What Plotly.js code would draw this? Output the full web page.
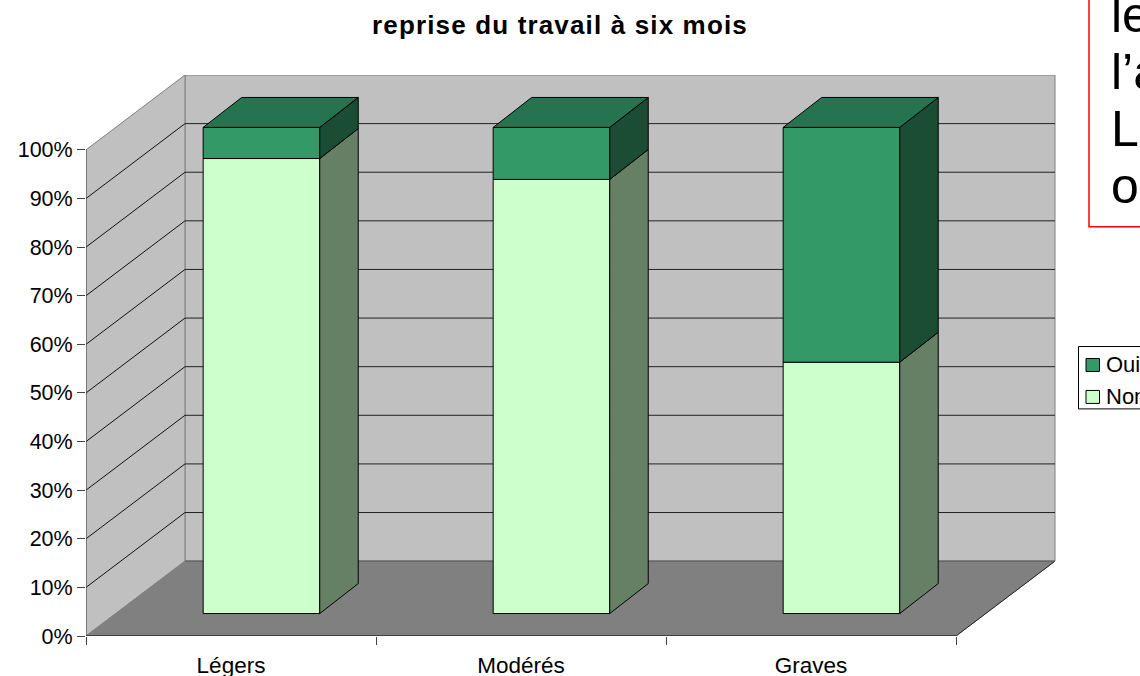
<!DOCTYPE html>
<html>
<head>
<meta charset="utf-8">
<script src="https://cdn.plot.ly/plotly-3.0.1.min.js"></script>
<style>html,body{margin:0;padding:0;background:#fff;overflow:hidden}#chart{width:1140px;height:676px}
.gtitle{letter-spacing:1.15px}</style>
</head>
<body>
<div id="chart"></div>
<script>
// --- data ---
const categories = ['Légers', 'Modérés', 'Graves'];
const nonValues = [93.6, 89.3, 51.7];
const ouiValues = [6.4, 10.7, 48.3];
const yTicks = [0, 10, 20, 30, 40, 50, 60, 70, 80, 90, 100];
const yTickLabels = yTicks.map(v => v + '%');
const boxLines = ['le', 'l’a', 'La', 'or'];
const seriesNames = ['Oui', 'Non'];

// --- drawing constants (pixels of the page, converted to axis units) ---
const W = 1140, H = 676;
const L = 86, R = 1056, T = 74.5, B = 636.5;
const catPx = 290, pctPx = 4.87;
const xMax = (R - L) / catPx, yMax = (B - T) / pctPx;
const wallDX = 99 / catPx, wallDY = 75 / pctPx;       // depth of the whole chart box
const barFront = 0.605, barW = 0.402;                 // centre in category, width
const barDX = 38.5 / catPx, barDY = 30 / pctPx;       // depth of a bar
const barBase = 22.5 / pctPx;                         // lift of the bars' front plane

const cOui = '#339966', cOuiSide = '#1A4D33', cOuiTop = '#267350';
const cNon = '#CCFFCC', cNonSide = '#668066';
const nCat = categories.length;
const pos = categories.map((c, i) => i + barFront);

function poly(pts) { return 'M' + pts.map(p => p[0] + ',' + p[1]).join('L') + 'Z'; }
function seg(a, b, color, w, layer) {
  return { type: 'line', xref: 'x', yref: 'y', x0: a[0], y0: a[1], x1: b[0], y1: b[1],
           line: { color: color, width: w }, layer: layer || 'below' };
}

// --- walls, floor and grid ---
const shapes = [];
const wallBack = poly([[wallDX, wallDY], [nCat + wallDX, wallDY], [nCat + wallDX, 100 + wallDY], [wallDX, 100 + wallDY]]);
const wallLeft = poly([[0, 0], [wallDX, wallDY], [wallDX, 100 + wallDY], [0, 100]]);
const floorP = poly([[0, 0], [nCat, 0], [nCat + wallDX, wallDY], [wallDX, wallDY]]);
shapes.push({ type: 'path', xref: 'x', yref: 'y', path: wallBack, fillcolor: '#C0C0C0', line: { color: '#808080', width: 1 }, layer: 'below' });
shapes.push({ type: 'path', xref: 'x', yref: 'y', path: wallLeft, fillcolor: '#C0C0C0', line: { color: '#808080', width: 1 }, layer: 'below' });
shapes.push({ type: 'path', xref: 'x', yref: 'y', path: floorP, fillcolor: '#808080', line: { color: '#808080', width: 1 }, layer: 'below' });
yTicks.forEach(v => {
  if (v === 0 || v === 100) return;
  shapes.push(seg([0, v], [wallDX, v + wallDY], '#111111', 1));
  shapes.push(seg([wallDX, v + wallDY], [nCat + wallDX, v + wallDY], '#222222', 1));
});
shapes.push(seg([nCat, 0], [nCat + wallDX, wallDY], '#222222', 1));
shapes.push(seg([wallDX, wallDY], [nCat + wallDX, wallDY], '#555555', 1));
shapes.push(seg([0, 0], [0, 100], '#555555', 1));

// --- traces ---
const traces = [];
traces.push({ type: 'bar', name: seriesNames[1], x: pos, y: nonValues, base: nonValues.map(() => barBase), width: barW,
  marker: { color: cNon, line: { color: '#000', width: 1 } }, showlegend: false, hoverinfo: 'skip' });
traces.push({ type: 'bar', name: seriesNames[0], x: pos, y: ouiValues, base: nonValues.map(v => barBase + v), width: barW,
  marker: { color: cOui, line: { color: '#000', width: 1 } }, showlegend: false, hoverinfo: 'skip' });

function addFace(xs, ys, color) {
  traces.push({ type: 'scatter', mode: 'lines', x: xs, y: ys, fill: 'toself', fillcolor: color,
    line: { color: '#000', width: 1 }, showlegend: false, hoverinfo: 'skip' });
}
pos.forEach((c, i) => {
  const xr = c + barW / 2, xl = c - barW / 2;
  const y0 = barBase, y1 = barBase + nonValues[i], y2 = y1 + ouiValues[i];
  addFace([xr, xr + barDX, xr + barDX, xr, xr], [y0, y0 + barDY, y1 + barDY, y1, y0], cNonSide);
  addFace([xr, xr + barDX, xr + barDX, xr, xr], [y1, y1 + barDY, y2 + barDY, y2, y1], cOuiSide);
  addFace([xl, xr, xr + barDX, xl + barDX, xl], [y2, y2, y2 + barDY, y2 + barDY, y2], cOuiTop);
});

// category baseline and tick marks live on a second x axis
traces.push({ type: 'scatter', mode: 'lines', xaxis: 'x2', yaxis: 'y', x: [0, nCat], y: [0, 0],
  line: { color: '#000', width: 1 }, showlegend: false, hoverinfo: 'skip' });

// --- text box and legend, cut by the page edge like the reference ---
const pxX = x => (x - L) / (R - L), pxY = y => (B - y) / (B - T);
shapes.push({ type: 'rect', xref: 'paper', yref: 'paper', x0: pxX(1089), x1: pxX(1160), y0: pxY(226.5), y1: pxY(-20),
  line: { color: '#FF0000', width: 1.5 }, fillcolor: 'rgba(0,0,0,0)', layer: 'above' });
shapes.push({ type: 'rect', xref: 'paper', yref: 'paper', x0: pxX(1078.5), x1: pxX(1170), y0: pxY(409), y1: pxY(346.5),
  line: { color: '#000', width: 1 }, fillcolor: '#fff', layer: 'above' });
shapes.push({ type: 'rect', xref: 'paper', yref: 'paper', x0: pxX(1086), x1: pxX(1099.5), y0: pxY(371.5), y1: pxY(358.5),
  line: { color: '#000', width: 1 }, fillcolor: cOui, layer: 'above' });
shapes.push({ type: 'rect', xref: 'paper', yref: 'paper', x0: pxX(1086), x1: pxX(1099.5), y0: pxY(403.5), y1: pxY(390.5),
  line: { color: '#000', width: 1 }, fillcolor: cNon, layer: 'above' });

const font = 'Liberation Sans, Arial, sans-serif';
const annotations = [];
seriesNames.forEach((s, i) => annotations.push({ xref: 'paper', yref: 'paper', x: pxX(1106), y: pxY(365 + 32 * i),
  xanchor: 'left', yanchor: 'middle', text: s, showarrow: false, borderpad: 0, xshift: -1,
  font: { family: font, size: 22, color: '#000' } }));
boxLines.forEach((s, i) => annotations.push({ xref: 'paper', yref: 'paper', x: pxX(1110), y: pxY(31 + 57.2 * i),
  xanchor: 'left', yanchor: 'bottom', yshift: -12, text: s, showarrow: false, borderpad: 0,
  font: { family: font, size: 50, color: '#000' } }));

const layout = {
  width: W, height: H, autosize: false,
  paper_bgcolor: '#fff', plot_bgcolor: 'rgba(0,0,0,0)',
  margin: { l: L, r: W - R, t: T, b: H - B, pad: 0, autoexpand: false },
  barmode: 'overlay', showlegend: false,
  title: { text: 'reprise du travail à six mois', font: { family: font, size: 26, color: '#000', weight: 'bold' },
           x: 560 / W, xanchor: 'center', y: 1 - 25 / H, yanchor: 'middle' },
  font: { family: font, size: 21, color: '#000' },
  xaxis: { range: [0, xMax], tickmode: 'array', tickvals: categories.map((c, i) => i + 0.5), ticktext: categories,
           ticks: '', showgrid: false, zeroline: false, showline: false, fixedrange: true, ticklabelstandoff: 13,
           tickfont: { family: font, size: 22.5, color: '#000' } },
  xaxis2: { range: [0, xMax], overlaying: 'x', anchor: 'y', side: 'bottom', tickmode: 'array',
            tickvals: categories.concat(['']).map((c, i) => i), ticks: 'outside', ticklen: 8, tickcolor: '#444', tickwidth: 1,
            showticklabels: false, showgrid: false, zeroline: false, showline: false, fixedrange: true },
  yaxis: { range: [0, yMax], tickmode: 'array', tickvals: yTicks, ticktext: yTickLabels, ticks: 'outside', ticklen: 8,
           tickcolor: '#444', tickwidth: 1, showgrid: false, zeroline: false, showline: false, fixedrange: true,
           tickfont: { family: font, size: 21.5, color: '#000' } },
  shapes: shapes, annotations: annotations
};
Plotly.newPlot('chart', traces, layout, { displayModeBar: false, staticPlot: true });
</script>
</body>
</html>
